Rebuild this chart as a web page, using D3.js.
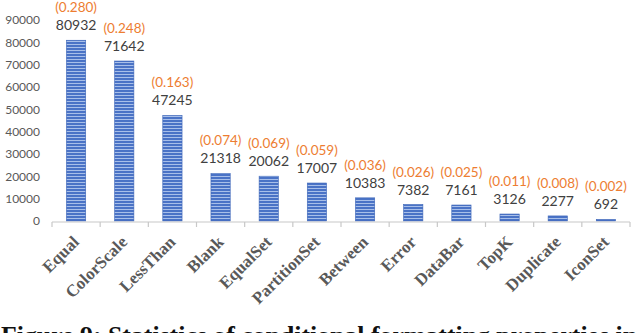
<!DOCTYPE html>
<html>
<head>
<meta charset="utf-8">
<script src="https://cdn.jsdelivr.net/npm/d3@7"></script>
<style>
  body { margin: 0; background: #fff; }
  svg { display: block; }
</style>
</head>
<body>
<svg width="640" height="333"></svg>
<script>
var categories = ["Equal", "ColorScale", "LessThan", "Blank", "EqualSet", "PartitionSet",
                  "Between", "Error", "DataBar", "TopK", "Duplicate", "IconSet"];
var counts = [80932, 71642, 47245, 21318, 20062, 17007, 10383, 7382, 7161, 3126, 2277, 692];
var ratios = ["(0.280)", "(0.248)", "(0.163)", "(0.074)", "(0.069)", "(0.059)",
              "(0.036)", "(0.026)", "(0.025)", "(0.011)", "(0.008)", "(0.002)"];
var yTicks = [0, 10000, 20000, 30000, 40000, 50000, 60000, 70000, 80000, 90000];

var svg = d3.select("svg"),
    width = +svg.attr("width"),
    height = +svg.attr("height");

var x = d3.scaleBand()
    .domain(categories)
    .range([52, 630])
    .paddingInner(0.6)
    .paddingOuter(0.3);

var y = d3.scaleLinear()
    .domain([0, 90000])
    .range([221, 20]);

// striped fill like the excel bars
var defs = svg.append("defs");
var pat = defs.append("pattern")
    .attr("id", "stripes")
    .attr("patternUnits", "userSpaceOnUse")
    .attr("width", 8)
    .attr("height", 3);
pat.append("rect").attr("width", 8).attr("height", 3).attr("fill", "#4a73c6");
pat.append("rect").attr("y", 2).attr("width", 8).attr("height", 1).attr("fill", "#a8bfe9");

// y tick labels (no axis line)
svg.append("g")
    .selectAll("text")
    .data(yTicks)
    .enter().append("text")
    .attr("x", 40)
    .attr("y", function(d) { return y(d); })
    .attr("dy", "0.35em")
    .attr("text-anchor", "end")
    .attr("font-family", "Lato, sans-serif")
    .attr("font-size", 12)
    .attr("fill", "#595959")
    .text(function(d) { return d; });

// bars
svg.append("g")
    .selectAll("rect")
    .data(counts)
    .enter().append("rect")
    .attr("x", function(d, i) { return x(categories[i]); })
    .attr("y", function(d) { return y(d); })
    .attr("width", x.bandwidth())
    .attr("height", function(d) { return y(0) - y(d); })
    .attr("fill", "url(#stripes)")
    .attr("stroke", "#3d66b8")
    .attr("stroke-width", 0.6);

// x axis: baseline plus tick marks between categories
var xAxis = svg.append("g").attr("transform", "translate(0,222)");
xAxis.append("line")
    .attr("x1", 52).attr("x2", 630)
    .attr("stroke", "#c8c8c8").attr("stroke-width", 1.2);
xAxis.selectAll(".tick")
    .data(d3.range(categories.length + 1))
    .enter().append("line")
    .attr("class", "tick")
    .attr("x1", function(i) { return 52 + i * (578 / categories.length); })
    .attr("x2", function(i) { return 52 + i * (578 / categories.length); })
    .attr("y1", 0).attr("y2", 5)
    .attr("stroke", "#c8c8c8").attr("stroke-width", 1.2);

// category labels, rotated
svg.append("g")
    .selectAll("text")
    .data(categories)
    .enter().append("text")
    .attr("transform", function(d) {
      return "translate(" + (x(d) + x.bandwidth() / 2 + 4) + ",243) rotate(-45)";
    })
    .attr("text-anchor", "end")
    .attr("font-family", "'Liberation Serif', 'Times New Roman', serif")
    .attr("font-weight", "bold")
    .attr("font-size", 17)
    .attr("fill", "#595959")
    .text(function(d) { return d; });

// count labels
svg.append("g")
    .selectAll("text")
    .data(counts)
    .enter().append("text")
    .attr("x", function(d, i) { return x(categories[i]) + x.bandwidth() / 2; })
    .attr("y", function(d) { return y(d) - 10; })
    .attr("text-anchor", "middle")
    .attr("font-family", "Lato, sans-serif")
    .attr("font-size", 14)
    .attr("fill", "#404040")
    .text(function(d) { return d; });

// ratio labels
svg.append("g")
    .selectAll("text")
    .data(ratios)
    .enter().append("text")
    .attr("x", function(d, i) { return x(categories[i]) + x.bandwidth() / 2; })
    .attr("y", function(d, i) { return y(counts[i]) - 28; })
    .attr("text-anchor", "middle")
    .attr("font-family", "Lato, sans-serif")
    .attr("font-size", 13.5)
    .attr("fill", "#ed7d31")
    .text(function(d) { return d; });

// caption, cut off by the bottom of the frame like in the source image
svg.append("text")
    .attr("x", 1)
    .attr("y", 344)
    .attr("font-family", "'Liberation Serif', 'Times New Roman', serif")
    .attr("font-weight", "bold")
    .attr("font-size", 25.8)
    .attr("fill", "#111")
    .text("Figure 9: Statistics of conditional formatting properties in");
</script>
</body>
</html>
